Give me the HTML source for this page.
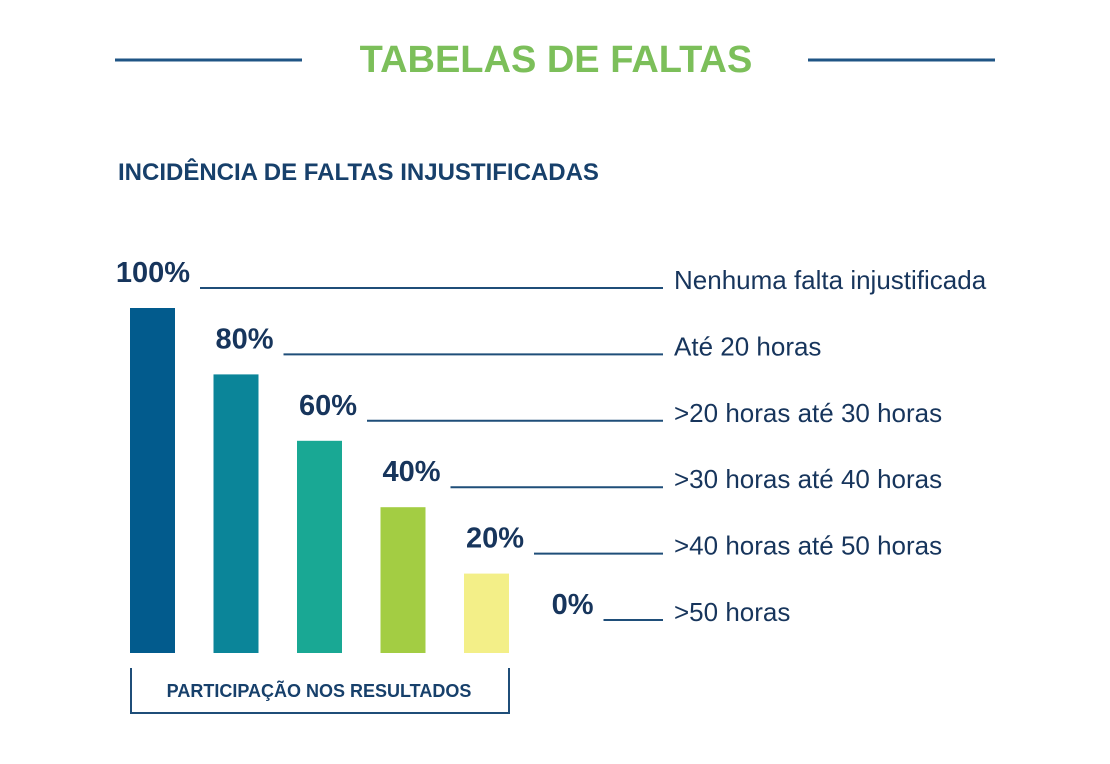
<!DOCTYPE html>
<html><head><meta charset="utf-8"><style>
body{margin:0;background:#fff;}
svg{display:block;font-family:"Liberation Sans",sans-serif;}
</style></head><body>
<svg width="1110" height="764" viewBox="0 0 1110 764">
<line x1="115" y1="60" x2="302" y2="60" stroke="#1f5585" stroke-width="3"/>
<line x1="808" y1="60" x2="995" y2="60" stroke="#1f5585" stroke-width="3"/>
<text x="556" y="72" text-anchor="middle" font-size="38" font-weight="bold" fill="#7cbf5a">TABELAS DE FALTAS</text>
<text x="118" y="180" font-size="24" font-weight="bold" fill="#17406b">INCIDÊNCIA DE FALTAS INJUSTIFICADAS</text>
<g id="bars"></g>
<path d="M131 668 V713 H509 V668" fill="none" stroke="#1f4e79" stroke-width="2"/>
<text x="319" y="697" text-anchor="middle" font-size="18" font-weight="bold" fill="#17406b">PARTICIPAÇÃO NOS RESULTADOS</text>
</svg>
<script>
const categories=["Nenhuma falta injustificada","Até 20 horas",">20 horas até 30 horas",">30 horas até 40 horas",">40 horas até 50 horas",">50 horas"];
const values=[100,80,60,40,20,0];
const valueLabels=["100%","80%","60%","40%","20%","0%"];
const colors=["#025b8d","#0b8599","#19a894","#a3cd43","#f3ef88","#ffffff"];
const NS="http://www.w3.org/2000/svg";
const g=document.getElementById("bars");
const baseY=653;
function yScale(v){return 640-v*3.32;}
function xBand(i){return 130+i*83.5;}
function mk(t,a){const e=document.createElementNS(NS,t);for(const k in a)e.setAttribute(k,a[k]);g.appendChild(e);return e;}
values.forEach((v,i)=>{
  const x=xBand(i);
  if(v>0){
    const r=mk("rect",{x:x,y:yScale(v),width:45,height:baseY-yScale(v),fill:colors[i]});
    
    
  }
  const ly=yScale(v)-20;
  const ex=x+(i===5?46:60);
  const t=mk("text",{x:ex,y:ly-6,"font-size":29,"font-weight":"bold",fill:"#17355c","text-anchor":"end"});
  t.textContent=valueLabels[i];
  
  
  const ln=mk("line",{x1:ex+10,y1:ly,x2:663,y2:ly,stroke:"#1f4e79","stroke-width":2});
  
  
  const c=mk("text",{x:674,y:ly+1,"font-size":26,fill:"#17355c"});
  c.textContent=categories[i];
  
  
});
</script>
</body></html>
